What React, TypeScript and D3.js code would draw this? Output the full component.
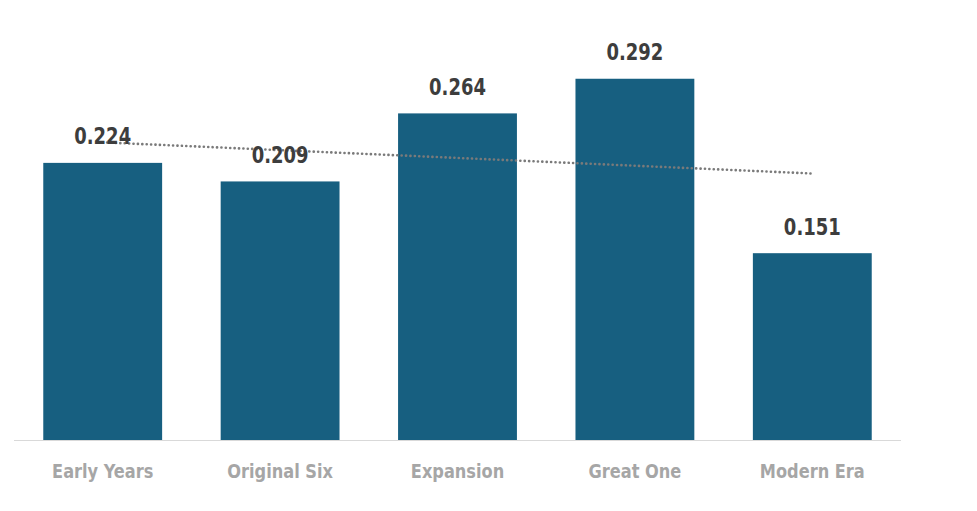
import React from "react";
import * as d3 from "d3";

const categories = ["Early Years", "Original Six", "Expansion", "Great One", "Modern Era"];
const values = [0.224, 0.209, 0.264, 0.292, 0.151];
const valueLabels = ["0.224", "0.209", "0.264", "0.292", "0.151"];

const W = 977;
const H = 511;

export default function App() {
  const x = d3.scaleBand<string>().domain(categories).range([14, 901]).paddingInner(0.33).paddingOuter(0.165);
  const y = d3.scaleLinear().domain([0, 0.35]).range([440, 7]);

  // linear trendline (least squares)
  const n = values.length;
  const xs = d3.range(n);
  const mx = d3.mean(xs) as number;
  const my = d3.mean(values) as number;
  const slope = d3.sum(xs.map((i) => (i - mx) * (values[i] - my))) / d3.sum(xs.map((i) => (i - mx) ** 2));
  const intercept = my - slope * mx;
  const cx = (i: number) => (x(categories[i]) as number) + x.bandwidth() / 2;
  const trend = d3
    .line<number>()
    .x((i) => cx(i))
    .y((i) => y(intercept + slope * i));

  const font = "'DejaVu Sans Condensed', 'DejaVu Sans', sans-serif";

  return (
    <svg width={W} height={H} style={{ position: "absolute", left: 0, top: 0 }}>
      <rect width={W} height={H} fill="#fff" />
      {categories.map((c, i) => (
        <rect key={c} x={x(c)} y={y(values[i])} width={x.bandwidth()} height={y(0) - y(values[i])} fill="#175f80" />
      ))}
      <line x1={14} x2={901} y1={y(0) + 0.5} y2={y(0) + 0.5} stroke="#d9d9d9" strokeWidth={1} />
      <path d={trend([0, n - 1]) || ""} fill="none" stroke="#7a7a7a" strokeWidth={2.6} strokeDasharray="0.1 4.3" strokeLinecap="round" />
      {categories.map((c, i) => (
        <text
          key={c + "v"}
          transform={`translate(${cx(i)},${y(values[i]) - 18.5}) scale(1,1.12)`}
          textAnchor="middle"
          fontFamily={font}
          fontWeight="bold"
          fontSize={20}
          fill="#3d3d3d"
        >
          {valueLabels[i]}
        </text>
      ))}
      {categories.map((c, i) => (
        <text
          key={c + "l"}
          transform={`translate(${cx(i)},478) scale(1,1.1)`}
          textAnchor="middle"
          fontFamily={font}
          fontWeight="bold"
          fontSize={18}
          fill="#a6a6a6"
        >
          {c}
        </text>
      ))}
    </svg>
  );
}
